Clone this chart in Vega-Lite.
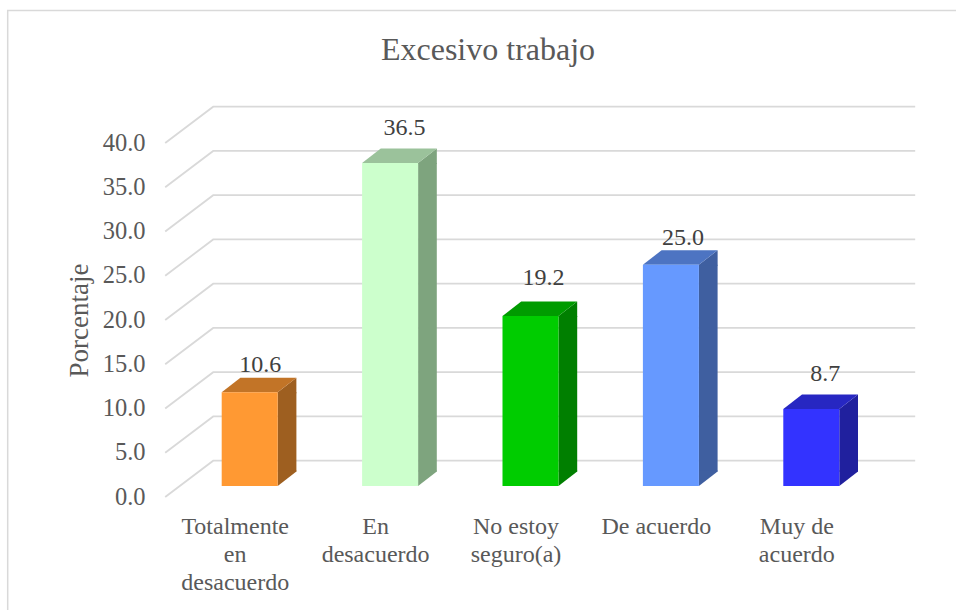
{
"$schema":"https://vega.github.io/schema/vega-lite/v6.json",
"width":702,"height":354,
"autosize":{"type":"none"},
"padding":{"left":165,"top":143,"right":89,"bottom":113},
"background":"#ffffff",
"title":{"text":"Excesivo trabajo","font":"Liberation Serif","fontSize":32,"fontWeight":"normal","color":"#595959","anchor":"middle","dx":-28,"offset":-59},
"config":{"view":{"stroke":null}},
"datasets":{
"barras":[
{"categoria":"Totalmente en desacuerdo","valor":10.6},
{"categoria":"En desacuerdo","valor":36.5},
{"categoria":"No estoy seguro(a)","valor":19.2},
{"categoria":"De acuerdo","valor":25.0},
{"categoria":"Muy de acuerdo","valor":8.7}],
"marcas":[{"marca":0},{"marca":5},{"marca":10},{"marca":15},{"marca":20},{"marca":25},{"marca":30},{"marca":35},{"marca":40}]
},
"data":{"name":"barras"},
"encoding":{
"x":{"field":"categoria","type":"nominal","sort":null,"title":null,
"scale":{"type":"band","domain":["Totalmente en desacuerdo","En desacuerdo","No estoy seguro(a)","De acuerdo","Muy de acuerdo"],"paddingInner":0,"paddingOuter":0},
"axis":{"domain":false,"ticks":false,"grid":false,"labelAngle":0,"labelFont":"Liberation Serif","labelFontSize":24,"labelColor":"#595959","labelPadding":17,"labelLineHeight":28,"labelBaseline":"top","labelLimit":300,"labelOverlap":false,"labelExpr":"datum.value=='Totalmente en desacuerdo'?['Totalmente','en','desacuerdo']:datum.value=='En desacuerdo'?['En','desacuerdo']:datum.value=='No estoy seguro(a)'?['No estoy','seguro(a)']:datum.value=='Muy de acuerdo'?['Muy de','acuerdo']:datum.value"}},
"y":{"field":"valor","type":"quantitative","title":"Porcentaje",
"scale":{"domain":[0,40],"nice":false,"zero":true},
"axis":{"values":[0,5,10,15,20,25,30,35,40],"format":".1f","domain":false,"ticks":false,"grid":false,"labelFont":"Liberation Serif","labelFontSize":24.5,"labelColor":"#595959","labelPadding":20,"titleFont":"Liberation Serif","titleFontSize":27,"titleFontWeight":"normal","titleColor":"#595959","titlePadding":9}}
},
"layer":[
{"data":{"values":[{"ancla":0}]},
"mark":{"type":"point","shape":"M-227.5 113L-227.5 -486.5L721 -486.5","size":4,"filled":false,"stroke":"#d9d9d9","strokeWidth":1.5,"opacity":1},
"encoding":{"x":{"datum":"Totalmente en desacuerdo"},"y":{"field":"ancla","type":"quantitative"}}},
{"data":{"name":"marcas"},
"mark":{"type":"point","shape":"M-70 0L-22 -36.3L680 -36.3","size":4,"filled":false,"stroke":"#d9d9d9","strokeWidth":1.8,"opacity":1},
"encoding":{"x":{"datum":"Totalmente en desacuerdo"},"y":{"field":"marca","type":"quantitative"}}},
{"mark":{"type":"bar","width":18.7,"xOffset":51.85,"yOffset":-11,"y2Offset":-25.5},
"encoding":{"y2":{"datum":0},"fill":{"field":"categoria","type":"nominal","legend":null,"scale":{"domain":["Totalmente en desacuerdo","En desacuerdo","No estoy seguro(a)","De acuerdo","Muy de acuerdo"],"range":["#9e5f20","#7ea47e","#007f00","#3f5fa0","#20209e"]}}}},
{"mark":{"type":"point","shape":"M42.5 -11L61.2 -25.5L61.2 -10L42.5 -10Z","size":4,"filled":true,"opacity":1},
"encoding":{"fill":{"field":"categoria","type":"nominal","legend":null,"scale":{"domain":["Totalmente en desacuerdo","En desacuerdo","No estoy seguro(a)","De acuerdo","Muy de acuerdo"],"range":["#9e5f20","#7ea47e","#007f00","#3f5fa0","#20209e"]}}}},
{"mark":{"type":"point","shape":"M42.5 -26.5L61.2 -26.5L61.2 -25.5L42.5 -11Z","size":4,"filled":true,"opacity":1},
"encoding":{"y":{"datum":0},"fill":{"field":"categoria","type":"nominal","legend":null,"scale":{"domain":["Totalmente en desacuerdo","En desacuerdo","No estoy seguro(a)","De acuerdo","Muy de acuerdo"],"range":["#9e5f20","#7ea47e","#007f00","#3f5fa0","#20209e"]}}}},
{"mark":{"type":"point","shape":"M-13.5 -11L42.5 -11L61.2 -25.5L5.2 -25.5Z","size":4,"filled":true,"opacity":1},
"encoding":{"fill":{"field":"categoria","type":"nominal","legend":null,"scale":{"domain":["Totalmente en desacuerdo","En desacuerdo","No estoy seguro(a)","De acuerdo","Muy de acuerdo"],"range":["#c27427","#9bc29b","#009b00","#4d74c2","#2727c2"]}}}},
{"mark":{"type":"bar","width":56,"xOffset":14.5,"yOffset":-11,"y2Offset":-11},
"encoding":{"y2":{"datum":0},"fill":{"field":"categoria","type":"nominal","legend":null,"scale":{"domain":["Totalmente en desacuerdo","En desacuerdo","No estoy seguro(a)","De acuerdo","Muy de acuerdo"],"range":["#ff9933","#ccffcc","#00cc00","#6699ff","#3333ff"]}}}},
{"mark":{"type":"text","font":"Liberation Serif","fontSize":24,"color":"#404040","align":"center","baseline":"alphabetic",
"dx":{"expr":"datum.valor==10.6?25:datum.valor==36.5?29:datum.valor==19.2?27.5:datum.valor==25?26.5:28.5"},
"dy":{"expr":"datum.valor==10.6?-31:datum.valor==36.5?-39:datum.valor==19.2?-42:datum.valor==25?-31:-39"}},
"encoding":{"text":{"field":"valor","type":"quantitative","format":".1f"}}}
],
"resolve":{"scale":{"fill":"independent"}}
}
